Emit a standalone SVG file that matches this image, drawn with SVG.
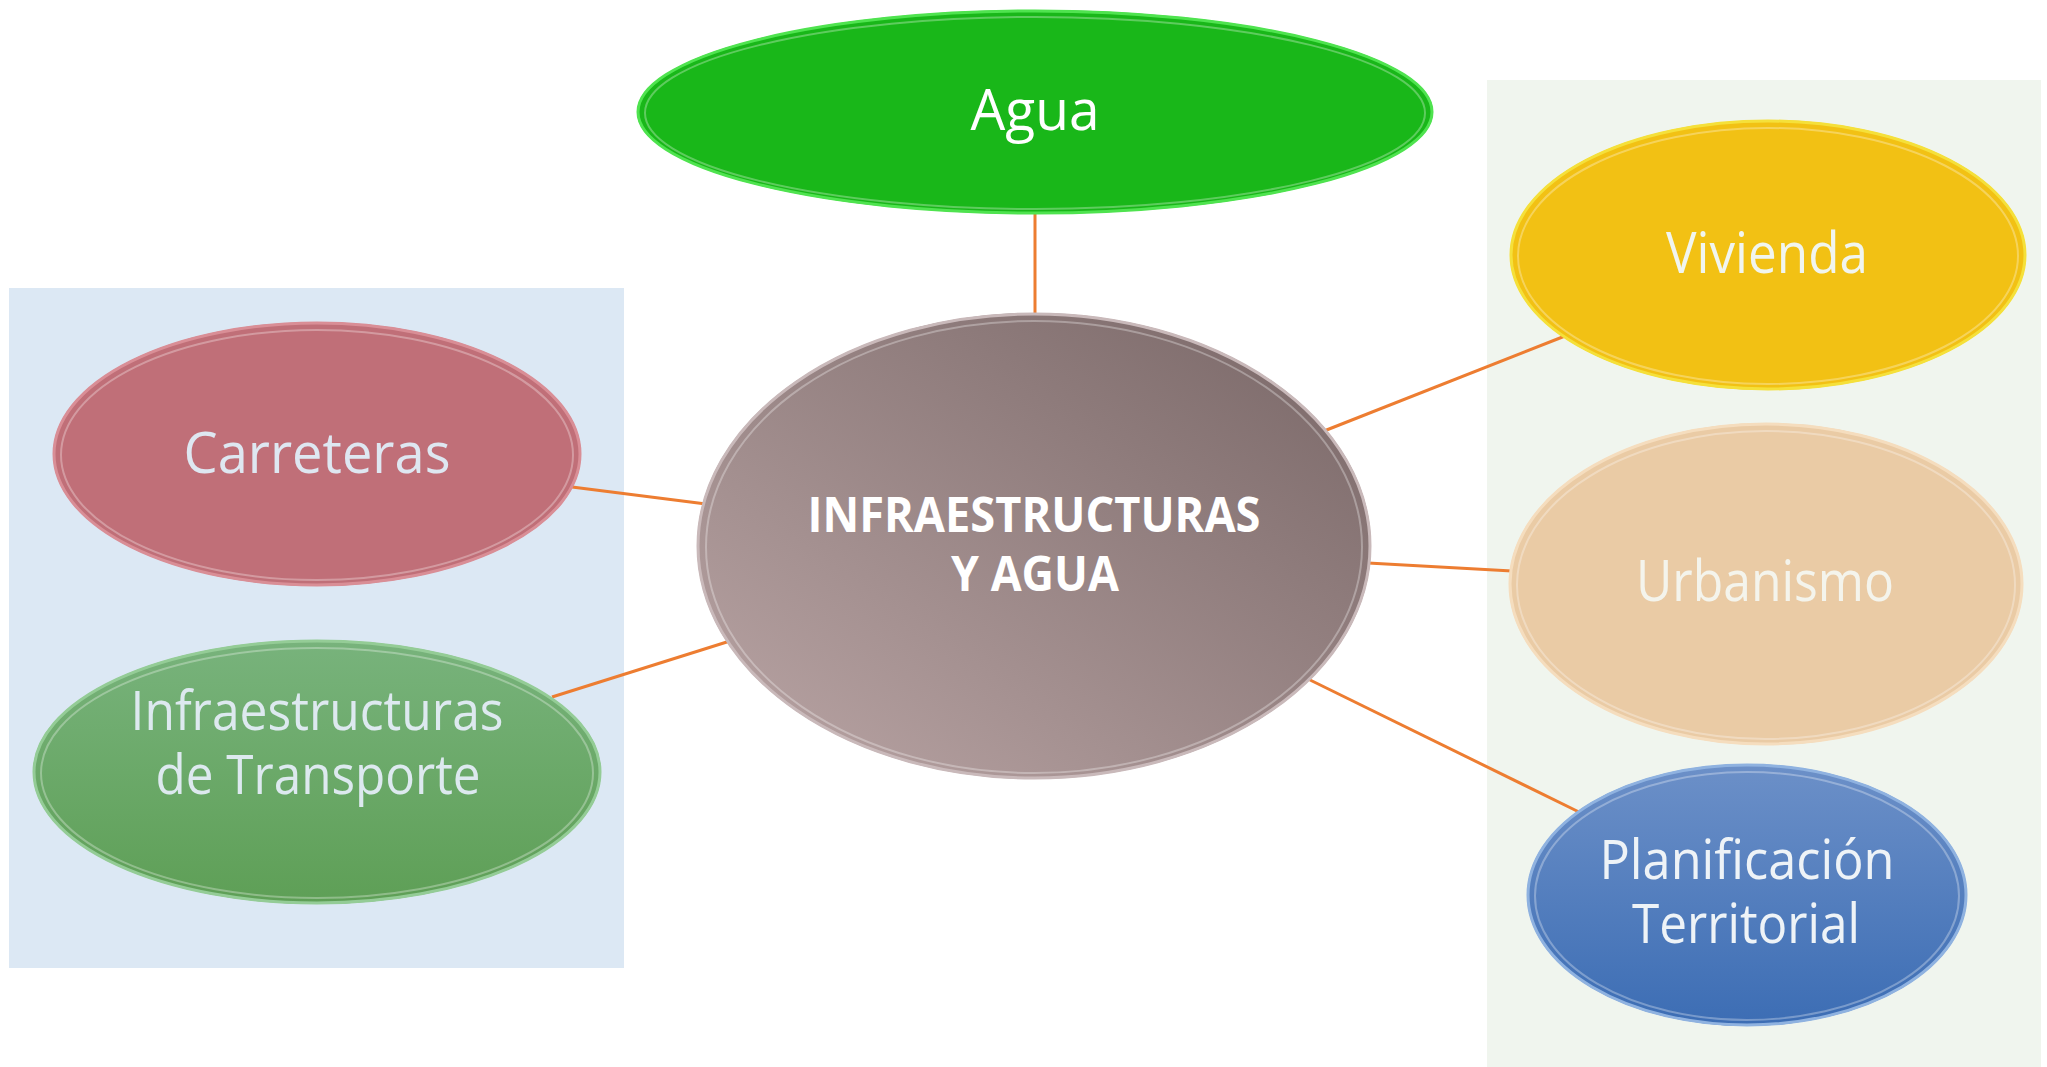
<svg xmlns="http://www.w3.org/2000/svg" width="2047" height="1067" viewBox="0 0 2047 1067">
<defs>
<linearGradient id="gCentral" x1="1" y1="0" x2="0" y2="1">
<stop offset="0" stop-color="#786666"/>
<stop offset="1" stop-color="#BBA6A6"/>
</linearGradient>
<linearGradient id="gTrans" x1="0" y1="0" x2="0" y2="1">
<stop offset="0" stop-color="#78B37C"/>
<stop offset="1" stop-color="#5E9F56"/>
</linearGradient>
<linearGradient id="gPlan" x1="0" y1="0" x2="0" y2="1">
<stop offset="0" stop-color="#6C90C8"/>
<stop offset="1" stop-color="#3C6DB4"/>
</linearGradient>
<style>
.lbl{font-family:"Open Sans","Noto Sans","Liberation Sans",sans-serif;font-size:57px;text-anchor:middle}
.lbl2{font-family:"Open Sans","Noto Sans","Liberation Sans",sans-serif;font-size:54px;text-anchor:middle}
.bold{font-family:"Open Sans","Noto Sans","Liberation Sans",sans-serif;font-size:48px;font-weight:bold;text-anchor:middle;fill:#FFFFFF}
.conn{stroke:#ED7D31;stroke-width:3;fill:none}
.rim{fill:none;stroke-width:3}
.hl{fill:none;stroke:#FFFFFF;stroke-width:2;stroke-opacity:0.3}
</style>
</defs>
<rect x="0" y="0" width="2047" height="1067" fill="#FFFFFF"/>
<rect id="bg-left" x="9" y="288" width="615" height="680" fill="#DCE8F4"/>
<rect id="bg-right" x="1487" y="80" width="554" height="987" fill="#F0F5EE"/>
<g id="connectors">
<line class="conn" x1="1035" y1="212" x2="1035" y2="316"/>
<line class="conn" x1="572" y1="487" x2="706" y2="504"/>
<line class="conn" x1="552" y1="697" x2="730" y2="641"/>
<line class="conn" x1="1324" y1="431" x2="1565" y2="336"/>
<line class="conn" x1="1368" y1="563" x2="1512" y2="571"/>
<line class="conn" x1="1306" y1="678" x2="1579" y2="812"/>
</g>
<g id="node-agua">
<ellipse cx="1035" cy="112" rx="398" ry="102" fill="#19B719"/>
<ellipse class="rim" cx="1035" cy="112" rx="397" ry="101" stroke="#4FE34F"/>
<ellipse class="hl" cx="1035" cy="113" rx="390" ry="96"/>
<text class="lbl" x="1035" y="130" fill="#FFFFFF" textLength="129" lengthAdjust="spacingAndGlyphs">Agua</text>
</g>
<g id="node-central">
<ellipse cx="1034" cy="546" rx="337" ry="233" fill="url(#gCentral)"/>
<ellipse class="rim" cx="1034" cy="546" rx="336" ry="232" stroke="#C9B9BA"/>
<ellipse class="hl" cx="1034" cy="547" rx="328" ry="226"/>
<text class="bold" x="1034" y="532" textLength="453" lengthAdjust="spacingAndGlyphs">INFRAESTRUCTURAS</text>
<text class="bold" x="1035" y="591" textLength="168" lengthAdjust="spacingAndGlyphs">Y AGUA</text>
</g>
<g id="node-carreteras">
<ellipse cx="317" cy="454" rx="264" ry="132" fill="#C06F78"/>
<ellipse class="rim" cx="317" cy="454" rx="263" ry="131" stroke="#D98E96"/>
<ellipse class="hl" cx="317" cy="455" rx="256" ry="125"/>
<text class="lbl" x="317" y="473" fill="#DEE7F1" textLength="267" lengthAdjust="spacingAndGlyphs">Carreteras</text>
</g>
<g id="node-transporte">
<ellipse cx="317" cy="772" rx="284" ry="132" fill="url(#gTrans)"/>
<ellipse class="rim" cx="317" cy="772" rx="283" ry="131" stroke="#94CC96"/>
<ellipse class="hl" cx="317" cy="773" rx="276" ry="125"/>
<text class="lbl2" x="317" y="730" fill="#DDE9EF" textLength="373" lengthAdjust="spacingAndGlyphs">Infraestructuras</text>
<text class="lbl2" x="318" y="794" fill="#DDE9EF" textLength="325" lengthAdjust="spacingAndGlyphs">de Transporte</text>
</g>
<g id="node-vivienda">
<ellipse cx="1768" cy="255" rx="258" ry="135" fill="#F2C114"/>
<ellipse class="rim" cx="1768" cy="255" rx="257" ry="134" stroke="#F5E03A"/>
<ellipse class="hl" cx="1768" cy="256" rx="250" ry="128"/>
<text class="lbl" x="1767" y="273" fill="#F1F5EF" textLength="202" lengthAdjust="spacingAndGlyphs">Vivienda</text>
</g>
<g id="node-urbanismo">
<ellipse cx="1766" cy="584" rx="257" ry="161" fill="#EACBA5"/>
<ellipse class="rim" cx="1766" cy="584" rx="256" ry="160" stroke="#F5DDBE"/>
<ellipse class="hl" cx="1766" cy="585" rx="249" ry="154"/>
<text class="lbl" x="1765" y="601" fill="#F4F4EC" textLength="258" lengthAdjust="spacingAndGlyphs">Urbanismo</text>
</g>
<g id="node-planificacion">
<ellipse cx="1747" cy="895" rx="220" ry="131" fill="url(#gPlan)"/>
<ellipse class="rim" cx="1747" cy="895" rx="219" ry="130" stroke="#8FB2E0"/>
<ellipse class="hl" cx="1747" cy="896" rx="212" ry="124"/>
<text class="lbl2" x="1747" y="879" fill="#EEF3F7" textLength="295" lengthAdjust="spacingAndGlyphs">Planificación</text>
<text class="lbl2" x="1746" y="943" fill="#EEF3F7" textLength="228" lengthAdjust="spacingAndGlyphs">Territorial</text>
</g>
</svg>
